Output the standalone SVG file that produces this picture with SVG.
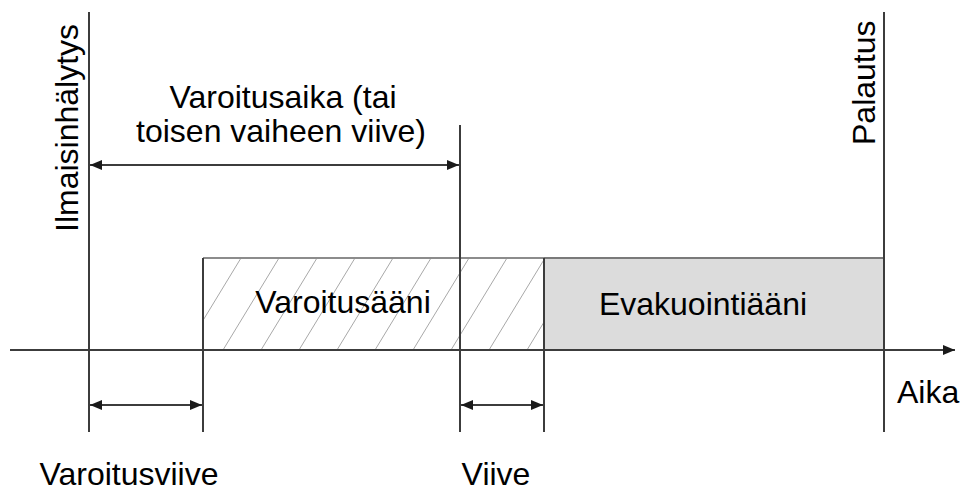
<svg xmlns="http://www.w3.org/2000/svg" width="961" height="495" viewBox="0 0 961 495">
<style>
.ln{stroke:#3c3c3c;stroke-width:2;fill:none}
.hl{stroke:#a8a8a8;stroke-width:1}
.t{font-family:"Liberation Sans",Arial,sans-serif;font-size:32px;fill:#000}
.m{text-anchor:middle}
</style>
<defs>
<marker id="ah" viewBox="0 0 12 10" refX="12" refY="5" markerWidth="12" markerHeight="10" markerUnits="userSpaceOnUse" orient="auto-start-reverse">
<path d="M0,0 L12,5 L0,10 Z" fill="#1a1a1a"/>
</marker>
<clipPath id="hc"><rect x="203" y="258" width="341" height="92"/></clipPath>
</defs>
<rect width="961" height="495" fill="#fff"/>
<g id="varoitusaani">
<rect x="203" y="258" width="341" height="92" fill="#fff"/>
<g clip-path="url(#hc)">
<line class="hl" x1="147" y1="350" x2="203" y2="258"/>
<line class="hl" x1="185" y1="350" x2="241" y2="258"/>
<line class="hl" x1="223" y1="350" x2="279" y2="258"/>
<line class="hl" x1="261" y1="350" x2="317" y2="258"/>
<line class="hl" x1="299" y1="350" x2="355" y2="258"/>
<line class="hl" x1="337" y1="350" x2="393" y2="258"/>
<line class="hl" x1="375" y1="350" x2="431" y2="258"/>
<line class="hl" x1="413" y1="350" x2="469" y2="258"/>
<line class="hl" x1="451" y1="350" x2="507" y2="258"/>
<line class="hl" x1="489" y1="350" x2="545" y2="258"/>
<line class="hl" x1="527" y1="350" x2="583" y2="258"/>
</g>
<line x1="203" y1="258" x2="544" y2="258" stroke="#8c8c8c" stroke-width="2"/>
<text class="t m" x="343" y="313">Varoitusääni</text>
</g>
<g id="evakuointiaani">
<rect x="544" y="258" width="340" height="92" fill="#dcdcdc"/>
<line x1="544" y1="258" x2="884" y2="258" stroke="#7a7a7a" stroke-width="2"/>
<text class="t m" x="703" y="315">Evakuointiääni</text>
</g>
<g id="connectors">
<line class="ln" x1="10" y1="350" x2="955" y2="350" marker-end="url(#ah)"/>
<line class="ln" x1="89" y1="12" x2="89" y2="432"/>
<line class="ln" x1="884" y1="12" x2="884" y2="432"/>
<line class="ln" x1="460" y1="125" x2="460" y2="432"/>
<line class="ln" x1="203" y1="258" x2="203" y2="432"/>
<line class="ln" x1="544" y1="258" x2="544" y2="432"/>
<line class="ln" x1="90" y1="165" x2="459" y2="165" marker-start="url(#ah)" marker-end="url(#ah)"/>
<line class="ln" x1="90" y1="405" x2="202" y2="405" marker-start="url(#ah)" marker-end="url(#ah)"/>
<line class="ln" x1="461" y1="405" x2="543" y2="405" marker-start="url(#ah)" marker-end="url(#ah)"/>
</g>
<g id="labels">
<text class="t" transform="translate(78,232) rotate(-90)">Ilmaisinhälytys</text>
<text class="t" transform="translate(875,145) rotate(-90)">Palautus</text>
<text class="t m" x="283" y="108">Varoitusaika (tai</text>
<text class="t m" x="281" y="142">toisen vaiheen viive)</text>
<text class="t" x="897" y="403">Aika</text>
<text class="t m" x="129" y="485">Varoitusviive</text>
<text class="t m" x="496" y="485">Viive</text>
</g>
</svg>
